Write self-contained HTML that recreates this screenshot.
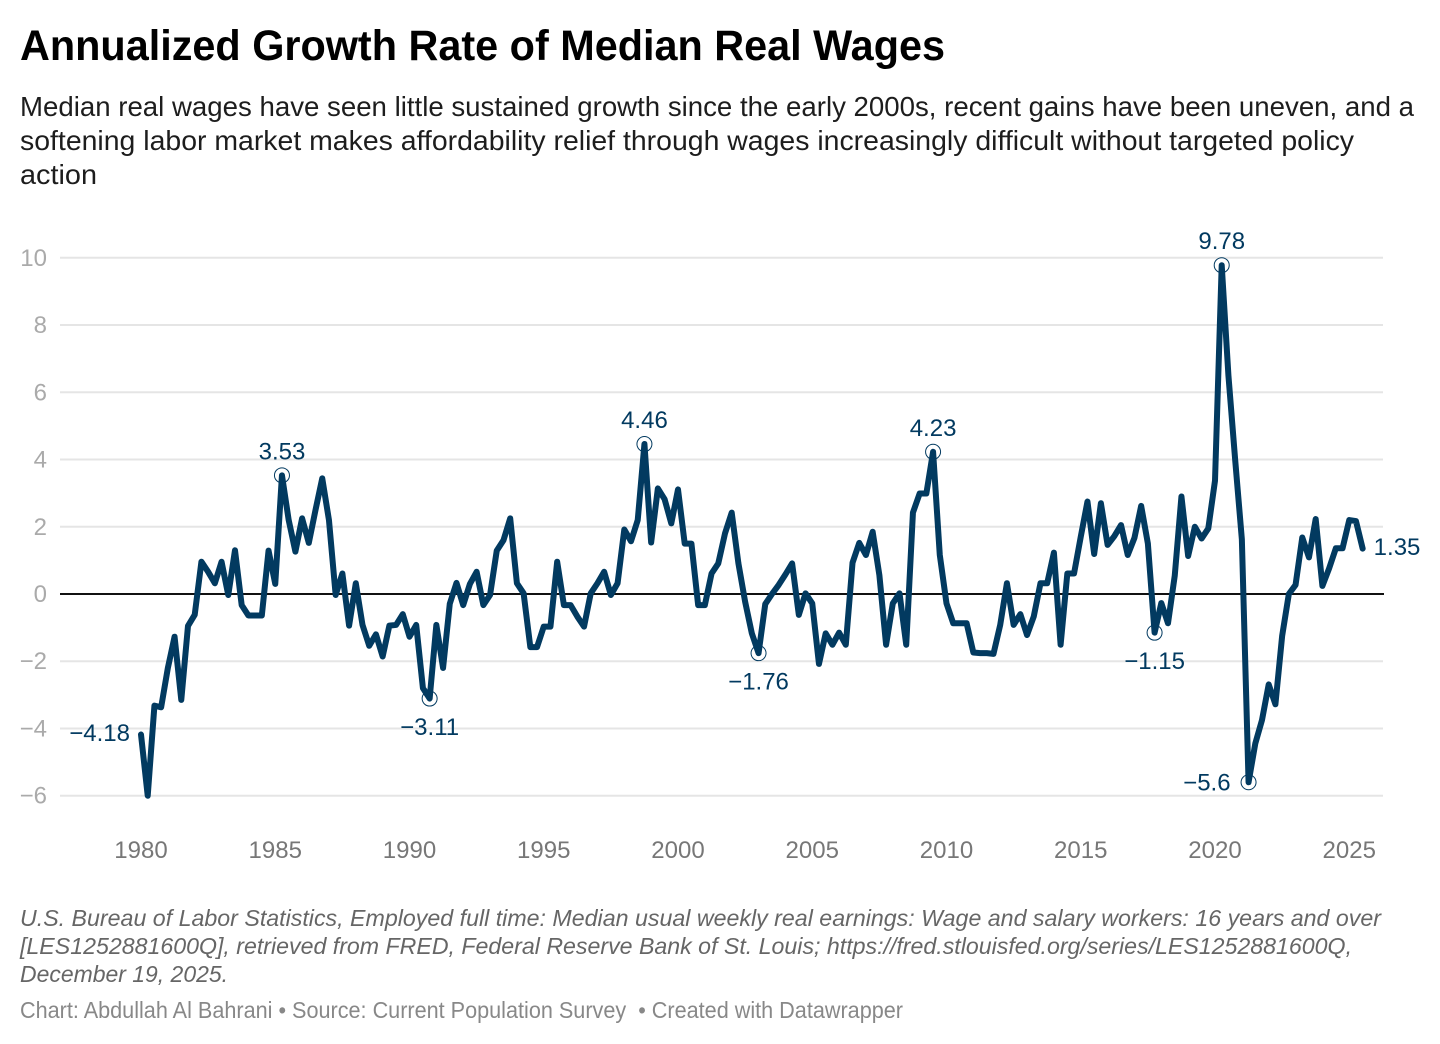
<!DOCTYPE html>
<html lang="en">
<head>
<meta charset="utf-8">
<title>Annualized Growth Rate of Median Real Wages</title>
<style>
html,body{margin:0;padding:0;background:#fff;width:1440px;height:1044px;overflow:hidden}
svg{display:block}
text{font-family:"Liberation Sans",sans-serif}
</style>
</head>
<body>
<svg id="chart" xmlns="http://www.w3.org/2000/svg" width="1440" height="1044" viewBox="0 0 1440 1044">
  <rect x="0" y="0" width="1440" height="1044" fill="#ffffff"/>
  <text x="20" y="60" font-size="43" font-weight="700" fill="#000" textLength="925" lengthAdjust="spacingAndGlyphs">Annualized Growth Rate of Median Real Wages</text>
  <g font-size="27.5" fill="#1d1d1d">
    <text x="20" y="116" textLength="1394" lengthAdjust="spacingAndGlyphs">Median real wages have seen little sustained growth since the early 2000s, recent gains have been uneven, and a</text>
    <text x="20" y="150" textLength="1334" lengthAdjust="spacingAndGlyphs">softening labor market makes affordability relief through wages increasingly difficult without targeted policy</text>
    <text x="20" y="184" textLength="77" lengthAdjust="spacingAndGlyphs">action</text>
  </g>
  <g id="plot"></g>
  <g font-size="23.5" font-style="italic" fill="#666">
    <text x="20" y="926" textLength="1361" lengthAdjust="spacingAndGlyphs">U.S. Bureau of Labor Statistics, Employed full time: Median usual weekly real earnings: Wage and salary workers: 16 years and over</text>
    <text x="20" y="954" textLength="1332" lengthAdjust="spacingAndGlyphs">[LES1252881600Q], retrieved from FRED, Federal Reserve Bank of St. Louis; https://fred.stlouisfed.org/series/LES1252881600Q,</text>
    <text x="20" y="982" textLength="208" lengthAdjust="spacingAndGlyphs">December 19, 2025.</text>
  </g>
  <text x="20" y="1018" font-size="23" fill="#888" textLength="883" lengthAdjust="spacingAndGlyphs" xml:space="preserve">Chart: Abdullah Al Bahrani • Source: Current Population Survey  • Created with Datawrapper</text>
</svg>
<script>
var firstYear = 1980;
var pointsPerYear = 4;
var yTickValues = [10, 8, 6, 4, 2, -2, -4, -6];
var xTickYears = [1980, 1985, 1990, 1995, 2000, 2005, 2010, 2015, 2020, 2025];
var wageGrowth = [
  -4.18, -6.0, -3.32, -3.37, -2.2, -1.27, -3.15, -0.95, -0.62, 0.96, 0.66, 0.32,
  0.96, -0.03, 1.3, -0.33, -0.64, -0.64, -0.64, 1.29, 0.3, 3.53, 2.2, 1.26,
  2.25, 1.52, 2.5, 3.44, 2.2, -0.03, 0.61, -0.94, 0.32, -0.92, -1.54, -1.2,
  -1.86, -0.94, -0.92, -0.6, -1.27, -0.92, -2.8, -3.11, -0.92, -2.2, -0.29, 0.33,
  -0.33, 0.3, 0.66, -0.33, -0.03, 1.29, 1.6, 2.25, 0.32, 0.02, -1.58, -1.58,
  -0.97, -0.97, 0.96, -0.33, -0.33, -0.67, -0.97, 0.02, 0.32, 0.66, -0.03, 0.32,
  1.92, 1.57, 2.2, 4.46, 1.53, 3.14, 2.82, 2.1, 3.11, 1.5, 1.5, -0.33,
  -0.33, 0.61, 0.91, 1.8, 2.42, 0.91, -0.23, -1.17, -1.76, -0.3, 0.0, 0.27,
  0.58, 0.91, -0.62, 0.02, -0.28, -2.08, -1.17, -1.51, -1.15, -1.51, 0.93, 1.52,
  1.16, 1.85, 0.56, -1.51, -0.28, 0.02, -1.51, 2.42, 2.99, 2.99, 4.23, 1.16,
  -0.28, -0.87, -0.87, -0.87, -1.74, -1.76, -1.76, -1.78, -0.92, 0.32, -0.92, -0.6,
  -1.22, -0.67, 0.32, 0.32, 1.23, -1.51, 0.61, 0.61, 1.7, 2.75, 1.19, 2.7,
  1.46, 1.72, 2.05, 1.16, 1.67, 2.62, 1.5, -1.15, -0.27, -0.87,
  0.54, 2.9, 1.13, 2.0, 1.65, 1.95, 3.37, 9.78, 6.5, 4.0, 1.63, -5.6,
  -4.45, -3.75, -2.69, -3.28, -1.25, 0.0, 0.27, 1.68, 1.09, 2.23, 0.24, 0.76,
  1.36, 1.36, 2.2, 2.17, 1.35
];
var annotatedQuarters = ['1980Q1', '1985Q2', '1990Q4', '1998Q4', '2003Q1', '2009Q3', '2017Q4', '2020Q2', '2021Q2', '2025Q3'];
var annotationSides = ['left', 'above', 'below', 'above', 'below', 'above', 'below', 'above', 'far-left', 'right'];
</script>
<script>
var SVG_NS = 'http://www.w3.org/2000/svg';
var plot = document.getElementById('plot');

function xOf(year) { return 141 + (year - 1980) * 26.85; }
function yOf(value) { return 594 - value * 33.62; }
function indexX(i) { return xOf(firstYear + i / pointsPerYear); }
function quarterIndex(q) {
  var year = parseInt(q.slice(0, 4), 10);
  var quarter = parseInt(q.slice(5), 10);
  return (year - firstYear) * pointsPerYear + quarter - 1;
}
function fmt(v) { return String(v).replace('-', '\u2212'); }
function make(tag, attrs, text) {
  var el = document.createElementNS(SVG_NS, tag);
  for (var k in attrs) { el.setAttribute(k, attrs[k]); }
  if (text !== undefined) { el.textContent = text; }
  plot.appendChild(el);
  return el;
}

yTickValues.forEach(function (v) {
  var line = make('line', { x1: 60, x2: 1383, y1: yOf(v), y2: yOf(v), stroke: '#e5e5e5', 'stroke-width': 2 });
  
  
  var label = make('text', { x: 47, y: yOf(v) + 8, 'text-anchor': 'end', 'font-size': 24, fill: '#aaaaaa' }, fmt(v));
  
  
});

var zeroLabel = make('text', { x: 47, y: yOf(0) + 8, 'text-anchor': 'end', 'font-size': 24, fill: '#aaaaaa' }, '0');



var zeroLine = make('line', { x1: 60, x2: 1384, y1: yOf(0), y2: yOf(0), stroke: '#111111', 'stroke-width': 2 });



xTickYears.forEach(function (year) {
  var label = make('text', { x: xOf(year), y: 858, 'text-anchor': 'middle', 'font-size': 24, fill: '#777777' }, String(year));
  
  
});

annotatedQuarters.forEach(function (q, n) {
  if (annotationSides[n] === 'left' || annotationSides[n] === 'right') { return; }
  var i = quarterIndex(q);
  var ring = make('circle', { cx: indexX(i), cy: yOf(wageGrowth[i]), r: 7.5, fill: '#ffffff', stroke: '#023a60', 'stroke-width': 1 });
  
  
});

var points = wageGrowth.map(function (v, i) {
  return indexX(i).toFixed(2) + ',' + yOf(v).toFixed(2);
}).join(' ');
var series = make('polyline', { points: points, fill: 'none', stroke: '#023a60', 'stroke-width': 6, 'stroke-linejoin': 'round', 'stroke-linecap': 'round' });



annotatedQuarters.forEach(function (q, n) {
  var i = quarterIndex(q);
  var side = annotationSides[n];
  var px = indexX(i);
  var py = yOf(wageGrowth[i]);
  var attrs = { 'font-size': 24, fill: '#023a60' };
  if (side === 'above') { attrs.x = px; attrs.y = py - 16; attrs['text-anchor'] = 'middle'; }
  if (side === 'below') { attrs.x = px; attrs.y = py + 36.5; attrs['text-anchor'] = 'middle'; }
  if (side === 'left') { attrs.x = px - 11; attrs.y = py + 6.5; attrs['text-anchor'] = 'end'; }
  if (side === 'far-left') { attrs.x = px - 18; attrs.y = py + 8; attrs['text-anchor'] = 'end'; }
  if (side === 'right') { attrs.x = px + 11; attrs.y = py + 6.5; attrs['text-anchor'] = 'start'; }
  var label = make('text', attrs, fmt(wageGrowth[i]));
  
  
});
</script>
</body>
</html>
